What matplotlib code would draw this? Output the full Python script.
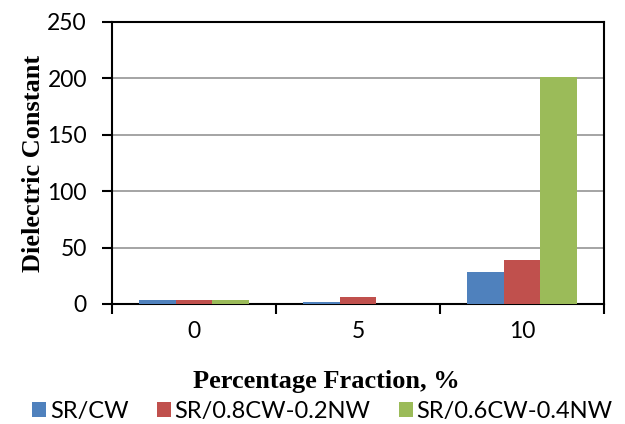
import numpy as np
import matplotlib
matplotlib.use('Agg')
import matplotlib.pyplot as plt

categories = ['0', '5', '10']
series_names = ['SR/CW', 'SR/0.8CW-0.2NW', 'SR/0.6CW-0.4NW']
sr_cw = [3.5, 1.5, 28.5]
sr_08cw = [3.5, 6.0, 38.6]
sr_06cw = [3.5, 0.3, 201.5]
colors = ['#4F81BD', '#C0504D', '#9BBB59']

tick_font = 'Lato'
title_font = 'Liberation Serif'

fig = plt.figure(figsize=(6.25, 4.24), dpi=100)
ax = fig.add_axes([112/625, 1 - 304/424, 492/625, 282/424])

x = np.arange(len(categories))
w = 0.222
for i, (vals, name) in enumerate(zip([sr_cw, sr_08cw, sr_06cw], series_names)):
    ax.bar(x + (i - 1) * w, vals, width=w, color=colors[i], label=name, zorder=3)

ax.set_xlim(-0.5, 2.5)
ax.set_ylim(0, 250)
ax.set_yticks(np.arange(0, 251, 50))
ax.yaxis.grid(True, color='#959595', linewidth=1.2, zorder=0)
ax.set_xticks(x)
ax.set_xticklabels(categories)
ax.set_xticks([-0.5, 0.5, 1.5, 2.5], minor=True)
ax.tick_params(axis='x', which='major', length=0, pad=12)
ax.tick_params(axis='x', which='minor', length=7, width=1.5, direction='out')
ax.tick_params(axis='y', length=7, width=1.5, direction='out', pad=11)
for lab in ax.get_xticklabels() + ax.get_yticklabels():
    lab.set_fontfamily(tick_font)
    lab.set_fontsize(16.5)
for s in ax.spines.values():
    s.set_linewidth(1.5)
    s.set_color('black')

ax.set_ylabel('Dielectric Constant', fontfamily=title_font, fontweight='bold', fontsize=19, labelpad=2)
ax.set_xlabel('Percentage Fraction, %', fontfamily=title_font, fontweight='bold', fontsize=19, labelpad=14)
ax.xaxis.set_label_coords(0.435, -0.235)

leg = fig.legend(loc='lower center', bbox_to_anchor=(0.516, -0.045), ncol=3, frameon=False,
                 prop={'family': tick_font, 'size': 17}, handlelength=0.6, handleheight=0.6,
                 handletextpad=0.15, columnspacing=1.2)

fig.savefig('out.png', dpi=100)
